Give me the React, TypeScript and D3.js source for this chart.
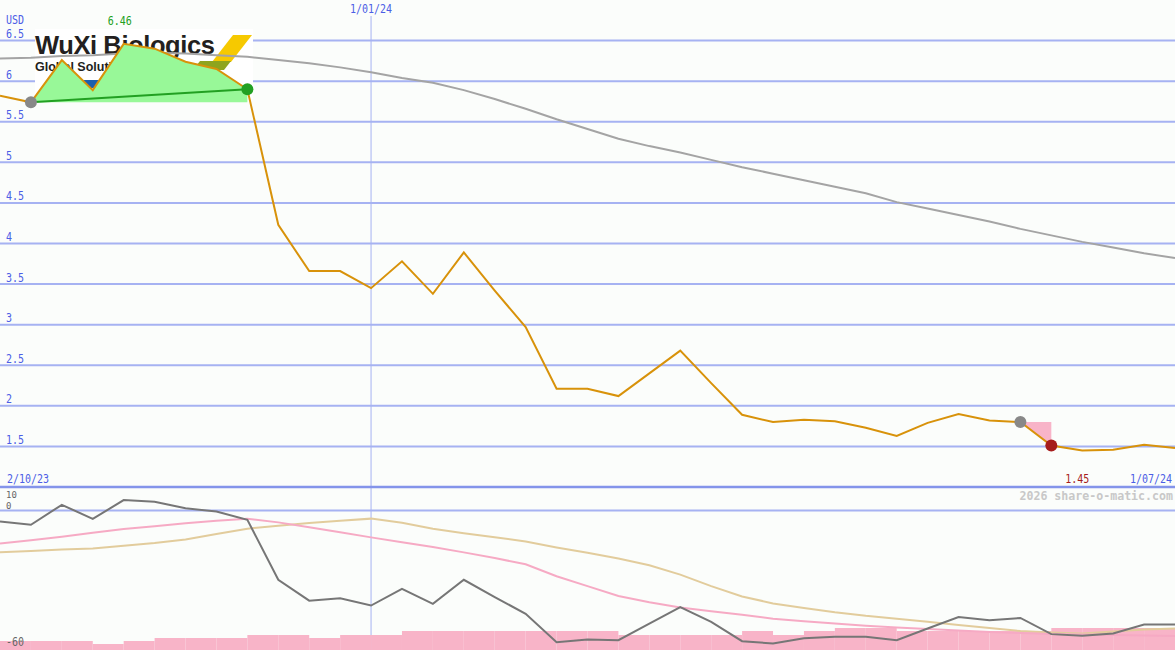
import React from "react";
import * as d3 from "d3";

const W = 1175;
const H = 650;

// weekly closing price (USD), index 0..38
const price = [
  5.82, 5.74, 6.26, 5.89, 6.46, 6.40, 6.24, 6.15, 5.90, 4.23,
  3.66, 3.66, 3.45, 3.78, 3.38, 3.89, 3.42, 2.97, 2.21, 2.21,
  2.12, 2.40, 2.68, 2.28, 1.89, 1.80, 1.83, 1.81, 1.73, 1.63,
  1.79, 1.90, 1.82, 1.80, 1.51, 1.45, 1.46, 1.52, 1.48,
];

// long moving average (USD)
const movingAvg = [
  6.28, 6.29, 6.31, 6.32, 6.34, 6.35, 6.34, 6.32, 6.30, 6.26,
  6.22, 6.17, 6.11, 6.04, 5.98, 5.89, 5.78, 5.66, 5.53, 5.41,
  5.29, 5.20, 5.12, 5.03, 4.94, 4.86, 4.78, 4.70, 4.62, 4.51,
  4.43, 4.35, 4.27, 4.18, 4.10, 4.02, 3.95, 3.88, 3.82,
];

// lower panel: oscillator (%)
const oscGray = [
  -4.7, -6.1, 2.4, -3.6, 4.4, 3.7, 0.9, -0.5, -4.0, -29.6,
  -38.5, -37.5, -40.6, -33.5, -39.9, -29.6, -37.0, -44.1, -56.3, -55.1,
  -55.4, -48.3, -41.3, -47.6, -55.8, -56.8, -54.6, -53.9, -53.9, -55.4,
  -50.4, -45.5, -46.9, -45.9, -52.8, -53.5, -52.5, -48.7, -48.7,
];
const oscPink = [
  -14.1, -12.7, -11.2, -9.5, -7.9, -6.8, -5.5, -4.4, -3.6, -5.1,
  -7.2, -9.3, -11.5, -13.6, -15.6, -17.9, -20.3, -23.0, -28.1, -32.3,
  -36.5, -39.2, -41.4, -43.0, -44.5, -46.2, -47.3, -48.3, -49.2, -50.0,
  -50.6, -51.3, -51.9, -52.3, -52.7, -53.0, -53.2, -53.4, -53.6,
];
const oscTan = [
  -17.8, -17.3, -16.7, -16.2, -15.1, -13.9, -12.4, -10.1, -7.8, -6.5,
  -5.4, -4.4, -3.5, -5.3, -7.8, -9.7, -11.4, -13.3, -15.8, -18.1,
  -20.5, -23.4, -27.4, -32.3, -36.7, -39.7, -41.6, -43.5, -45.0, -46.2,
  -47.5, -48.9, -50.2, -51.5, -52.1, -52.5, -51.7, -50.8, -50.4,
];
// weekly volume (relative units)
const volume = [
  9, 9, 9, 6, 9, 12, 12, 12, 15, 15,
  12, 15, 15, 19, 19, 19, 19, 19, 19, 19,
  15, 15, 15, 15, 19, 15, 19, 22, 22, 19,
  19, 19, 19, 19, 22, 22, 22, 22,
];

const priceTicks = [6.5, 6, 5.5, 5, 4.5, 4, 3.5, 3, 2.5, 2, 1.5];
const priceTickLabels = ["6.5", "6", "5.5", "5", "4.5", "4", "3.5", "3", "2.5", "2", "1.5"];
const dateLabels = ["2/10/23", "1/01/24", "1/07/24"];
const yearStartIndex = 12;
const riseStart = 1;
const riseEnd = 8;
const fallStart = 33;
const fallEnd = 34;
const maxIndex = 4;
const minIndex = 35;

const GRID = "#a6b2f2";
const BLUE_TXT = "#4c5ee6";
const MONO = "'DejaVu Sans Mono', monospace";

function Label(props: { x: number; y: number; fill: string; anchor?: string; children: React.ReactNode }) {
  return (
    <g transform={`translate(${props.x},${props.y}) scale(1,1.2)`}>
      <text x={0} y={0} fontSize={10} fill={props.fill} textAnchor={props.anchor ?? "start"}>
        {props.children}
      </text>
    </g>
  );
}

export default function App() {
  const x = d3.scaleLinear().domain([0, price.length - 1]).range([0, W]);
  const yP = d3.scaleLinear().domain([1, 7]).range([487, 0]);
  const yO = d3.scaleLinear().domain([-60, 10]).range([651, 487]);
  const yV = d3.scaleLinear().domain([0, 100]).range([650, 550]);

  const lineP = d3.line<number>().x((_, i) => x(i)).y((d) => yP(d));
  const lineO = d3.line<number>().x((_, i) => x(i)).y((d) => yO(d));

  const fillPoly = (a: number, b: number) => {
    const pts: [number, number][] = [];
    for (let i = a; i <= b; i++) pts.push([x(i), yP(price[i])]);
    pts.push([x(b), yP(price[a])]);
    return "M" + pts.map((p) => p.join(",")).join("L") + "Z";
  };

  return (
    <svg
      width={W}
      height={H}
      style={{ position: "absolute", left: 0, top: 0, background: "#fbfdfb" }}
      fontFamily={MONO}
    >
      <rect x={0} y={0} width={W} height={H} fill="#fbfdfb" />
      {/* price gridlines */}
      {priceTicks.map((t) => (
        <line key={t} x1={0} x2={W} y1={yP(t)} y2={yP(t)} stroke={GRID} strokeWidth={2} />
      ))}
      {/* year start vertical */}
      <line x1={x(yearStartIndex)} x2={x(yearStartIndex)} y1={16} y2={H} stroke={GRID} strokeWidth={1} />
      {/* lower panel zero line */}
      <line x1={0} x2={W} y1={yO(0)} y2={yO(0)} stroke={GRID} strokeWidth={2} />
      {/* separator */}
      <line x1={0} x2={W} y1={yP(1)} y2={yP(1)} stroke="#8494ea" strokeWidth={2.5} />

      {/* logo */}
      <g>
        <rect x={35} y={29} width={218} height={70} fill="#ffffff" />
        <rect x={48} y={80} width={168} height={8} fill="#1b5fae" />
        <polygon points="233,35 252,35 231,62 212,62" fill="#f6c900" />
        <polygon points="200,61 231,61 224,70 193,70" fill="#8ea41e" />
        <text x={35} y={54} fontFamily="'Liberation Sans', Arial, sans-serif" fontWeight={700} fontSize={25.5} fill="#231f20" letterSpacing={-0.4}>
          WuXi Biologics
        </text>
        <text x={35} y={71} fontFamily="'Liberation Sans', Arial, sans-serif" fontWeight={700} fontSize={12.5} fill="#231f20">
          Global Solution Provider
        </text>
      </g>

      {/* moving average */}
      <path d={lineP(movingAvg) ?? ""} fill="none" stroke="#a4a4a4" strokeWidth={2} />

      {/* rise / fall fills */}
      <path d={fillPoly(riseStart, riseEnd)} fill="#98f898" />
      <path d={fillPoly(fallStart, fallEnd)} fill="#f8b4c8" />
      <line
        x1={x(riseStart)} y1={yP(price[riseStart])}
        x2={x(riseEnd)} y2={yP(price[riseEnd])}
        stroke="#22a022" strokeWidth={2}
      />

      {/* price */}
      <path d={lineP(price) ?? ""} fill="none" stroke="#d8920a" strokeWidth={2} />

      {/* markers */}
      <circle cx={x(riseStart)} cy={yP(price[riseStart])} r={6} fill="#888888" />
      <circle cx={x(riseEnd)} cy={yP(price[riseEnd])} r={6} fill="#22a022" />
      <circle cx={x(fallStart)} cy={yP(price[fallStart])} r={6} fill="#888888" />
      <circle cx={x(fallEnd)} cy={yP(price[fallEnd])} r={6} fill="#a61c1c" />

      {/* lower panel */}
      {volume.map((v, i) => (
        <rect key={i} x={x(i)} width={x(i + 1) - x(i)} y={yV(v)} height={650 - yV(v)} fill="#f8b4c8" />
      ))}
      <path d={lineO(oscTan) ?? ""} fill="none" stroke="#e2cc9c" strokeWidth={2} />
      <path d={lineO(oscPink) ?? ""} fill="none" stroke="#f6aac4" strokeWidth={2} />
      <path d={lineO(oscGray) ?? ""} fill="none" stroke="#767676" strokeWidth={2} />

      {/* labels */}
      <Label x={6} y={24} fill={BLUE_TXT}>USD</Label>
      {priceTicks.map((t, i) => (
        <Label key={t} x={6} y={yP(t) - 2.5} fill={BLUE_TXT}>{priceTickLabels[i]}</Label>
      ))}
      <Label x={x(yearStartIndex)} y={13} fill={BLUE_TXT} anchor="middle">{dateLabels[1]}</Label>
      <Label x={7} y={483} fill={BLUE_TXT}>{dateLabels[0]}</Label>
      <Label x={1172} y={483} fill={BLUE_TXT} anchor="end">{dateLabels[2]}</Label>
      <Label x={x(maxIndex) - 4} y={25} fill="#22a022" anchor="middle">
        {price[maxIndex].toFixed(2)}
      </Label>
      <Label x={x(minIndex) - 5} y={483} fill="#a61c1c" anchor="middle">
        {price[minIndex].toFixed(2)}
      </Label>
      <text x={6} y={498} fontSize={9} fill="#666666">10</text>
      <text x={6} y={508.5} fontSize={9} fill="#666666">0</text>
      <Label x={6} y={646} fill="#666666">-60</Label>
      <text x={1173} y={500} fontSize={11.6} fontWeight={700} fill="#c8c8c8" textAnchor="end">
        2026 share-o-matic.com
      </text>
    </svg>
  );
}
